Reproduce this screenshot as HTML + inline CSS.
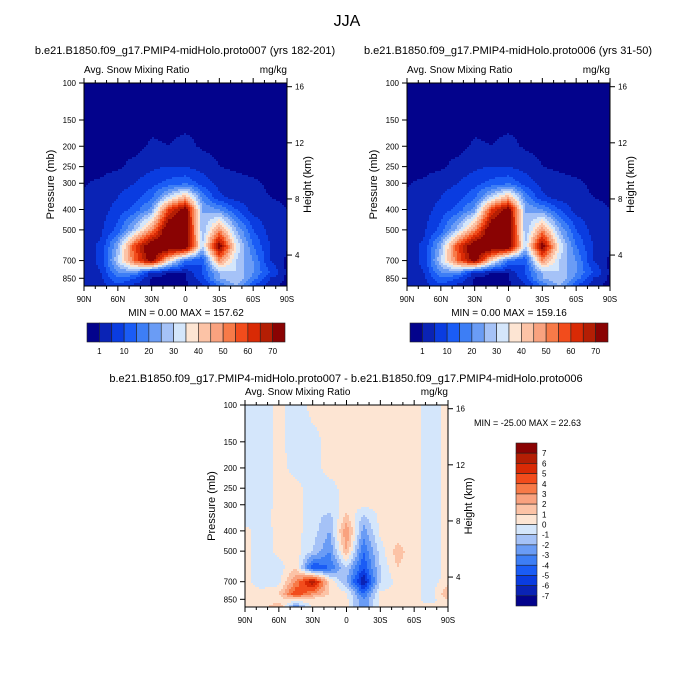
<!DOCTYPE html>
<html><head><meta charset="utf-8"><style>
html,body{margin:0;padding:0;background:#fff;}
svg{display:block;font-family:"Liberation Sans",Arial,sans-serif;}
</style></head><body>
<svg id="chart" width="694" height="694" viewBox="0 0 694 694" xmlns="http://www.w3.org/2000/svg">
<rect width="694" height="694" fill="#fff"/>
<text x="347" y="26" font-size="16" text-anchor="middle">JJA</text>
<g id="root"></g>
</svg>
<script>
const lats = [90,75,60,45,30,15,0,-15,-30,-45,-60,-75,-90];
const prs = [100,150,200,250,300,350,400,500,600,700,800,850,925];
const snowA = [
[0,0,0,0,0,0,0,0,0,0,0,0,0],
[0,0,0,0,0,0,0,0,0,0,0,0,0],
[0,0,0,0,1.5,1,2,0.5,0,0,0,0,0],
[0,0,0.5,2,4,5,5,3,1,0.5,0,0,0],
[0.8,1.5,3,5,8,12,14,8,3,2,1.5,0.5,0.3],
[1.5,2.5,5,8,14,30,45,18,6,3,2,1,0.5],
[2,3,7,12,22,60,75,25,20,10,3,2,1],
[2.5,4,12,28,50,80,80,25,50,25,10,3,1.2],
[3,6,25,60,80,80,80,30,75,35,15,5,1.5],
[3,6,30,55,75,40,15,10,50,30,20,5,0],
[3,5,20,20,3,1,1,10,25,30,20,10,0],
[3,4,15,10,0.5,0.3,0.5,8,25,30,18,5,0],
[2,3,8,3,0.3,0.3,0.5,4,15,25,10,2,0]];
const snowB = [
[0,0,0,0,0,0,0,0,0,0,0,0,0],
[0,0,0,0,0,0,0,0,0,0,0,0,0],
[0,0,0,0,1.5,1,2,0.5,0,0,0,0,0],
[0,0,0.5,2,4,5,5,3,1,0.5,0,0,0],
[0.8,1.5,3,5,8,12,14,8,3,2,1.5,0.5,0.3],
[1.5,2.5,5,8,14,30,45,18,6,3,2,1,0.5],
[2,3,7,12,22,60,75,25,20,10,3,2,1],
[2.5,4,12,28,50,80,80,25,50,25,10,3,1.2],
[3,6,25,60,80,80,80,30,75,35,15,5,1.5],
[3,6,30,55,75,40,15,10,50,30,20,5,0],
[3,5,20,20,3,1,1,10,25,30,20,10,0],
[3,4,15,10,0.5,0.3,0.5,8,25,30,18,5,0],
[2,3,8,3,0.3,0.3,0.5,4,15,25,10,2,0]];
const diff = [
[-0.5,-0.5,0.3,-0.5,0.3,0.3,0.5,0.3,0.3,0.3,0.3,-0.5,0.3],
[-0.5,-0.5,0.3,-0.5,-0.3,0.3,0.3,0.3,0.3,0.3,0.3,-0.5,0.3],
[-0.5,-0.5,0.3,-0.3,-0.3,0.3,0.3,0.3,0.3,0.3,0.3,-0.5,0.3],
[-0.5,-0.5,0.3,0.3,-0.5,-0.3,0.3,0.3,0.3,0.3,0.3,-0.5,0.3],
[-0.5,-0.5,0.3,0.3,-0.5,-0.3,0.3,0.3,0.3,0.3,0.3,-0.5,0.3],
[-0.5,-0.3,0.3,0.3,-0.5,-1.5,1.5,-1.5,0.3,0.3,0.3,-0.5,0.3],
[0.3,-0.5,0.3,0.3,-0.5,-2,3,-2.5,0.3,0.3,0.3,-0.5,0.3],
[0.3,-0.5,0.3,0.5,-1,-3,2,-4,-0.5,1.5,0.3,-0.5,0.3],
[0.3,-0.5,-0.5,1,-5,-4,-1,-5,-1,1,0.3,-0.5,0.3],
[0.3,-0.5,-0.5,3,7,1,-2,-7,-1,0.3,0.3,-0.5,0.5],
[0.3,0.3,1,5,3,1,0.3,-4,0.3,0.3,0.3,-0.5,2],
[0.3,0.3,0.5,1,0.5,0.3,0.3,-3,0.3,0.3,0.3,-0.5,1],
[0.3,0.3,2,-3,0.3,0.3,0.3,-3,0.3,0.3,0.3,0.3,1]];
const snowLevels = [1,5,10,15,20,25,30,35,40,45,50,55,60,65,70];
const snowLabels = ["1","10","20","30","40","50","60","70"];
const diffLevels = [-7,-6,-5,-4,-3,-2,-1,0,1,2,3,4,5,6,7];
const diffLabels = ["7","6","5","4","3","2","1","0","-1","-2","-3","-4","-5","-6","-7"];
const pTicks = [100,150,200,250,300,400,500,700,850];
const zTicks = [4,8,12,16];
const latTicks = [90,60,30,0,-30,-60,-90];
const latTickLabels = ["90N","60N","30N","0","30S","60S","90S"];
const colors = ["#03038c","#0a23b5","#0a3ce0","#1a5cf5","#3d7ef5","#6a9cf5","#a5c2f7","#d4e6fb","#fde5d3","#fcc3a6","#f9a27f","#f77a48","#f24c1c","#d92a05","#b41e04","#8a0303"];

const NS="http://www.w3.org/2000/svg";
const root=document.getElementById('root');
function el(tag,attrs,parent,text){const e=document.createElementNS(NS,tag);for(const k in attrs)e.setAttribute(k,attrs[k]);if(text!==undefined)e.textContent=text;(parent||root).appendChild(e);return e;}
const PBOT=925;
function yP(P,p){return P.y0+(Math.log(p)-Math.log(100))/(Math.log(PBOT)-Math.log(100))*P.h;}
function xL(P,lat){return P.x0+(90-lat)/180*P.w;}
function yZ(P,z){return P.y0+3.7+(16-z)*14.03;}
function sample(grid,lat,p){
  let fi=(90-lat)/15; fi=Math.max(0,Math.min(lats.length-1.0001,fi));
  const i=Math.floor(fi),tx=fi-i;
  const lp=Math.log(p);let j=0;
  while(j<prs.length-2&&Math.log(prs[j+1])<lp)j++;
  let ty=(lp-Math.log(prs[j]))/(Math.log(prs[j+1])-Math.log(prs[j]));ty=Math.max(0,Math.min(1,ty));
  const a=grid[j][i],b=grid[j][i+1],c=grid[j+1][i],d=grid[j+1][i+1];
  return (a*(1-tx)+b*tx)*(1-ty)+(c*(1-tx)+d*tx)*ty;
}
function idx(v,levels){let k=0;while(k<levels.length&&v>=levels[k])k++;return k;}

function panel(P,grid,levels,name){
  const g=el('g',{},root);
  
  
  const step=2;
  const xEnd=P.x0+P.w;
  for(let y=P.y0;y<P.y0+P.h;y+=step){
    const hh=Math.min(step,P.y0+P.h-y);
    const p=Math.exp(Math.log(100)+(y+hh/2-P.y0)/P.h*(Math.log(PBOT)-Math.log(100)));
    let runStart=P.x0,runC=-1;
    const flush=(xe)=>{
      if(runC<0)return;
      const r=el('rect',{x:runStart,y:y,width:xe-runStart+0.4,height:hh+0.4,fill:colors[runC]},g);
      
      
    };
    for(let x=P.x0;x<xEnd;x+=step){
      const lat=90-(Math.min(x+step/2,xEnd)-P.x0)/P.w*180;
      const c=idx(sample(grid,lat,p),levels);
      if(c!==runC){flush(x);runStart=x;runC=c;}
    }
    flush(xEnd);
  }
  el('rect',{x:P.x0,y:P.y0,width:P.w,height:P.h,fill:'none',stroke:'#000','stroke-width':1},g);
  pTicks.forEach(p=>{const y=yP(P,p);el('line',{x1:P.x0-5,x2:P.x0,y1:y,y2:y,stroke:'#000'},g);
    const t=el('text',{x:P.x0-8,y:y+3,'font-size':8,'text-anchor':'end'},g,String(p));
    });
  zTicks.forEach(z=>{const y=yZ(P,z);el('line',{x1:P.x0+P.w,x2:P.x0+P.w+5,y1:y,y2:y,stroke:'#000'},g);
    const t=el('text',{x:P.x0+P.w+8,y:y+3,'font-size':8},g,String(z));
    });
  for(let lat=90;lat>=-90;lat-=10){const x=xL(P,lat);const maj=lat%30===0;
    el('line',{x1:x,x2:x,y1:P.y0+P.h,y2:P.y0+P.h+(maj?5:3),stroke:'#000'},g);
    el('line',{x1:x,x2:x,y1:P.y0,y2:P.y0-(maj?5:3),stroke:'#000'},g);}
  latTicks.forEach((lat,k)=>{const t=el('text',{x:xL(P,lat),y:P.y0+P.h+16,'font-size':8,'text-anchor':'middle'},g,latTickLabels[k]);
    });
  let t=el('text',{x:P.x0,y:P.y0-10,'font-size':10},g,'Avg. Snow Mixing Ratio');
  
  t=el('text',{x:P.x0+P.w,y:P.y0-10,'font-size':10,'text-anchor':'end'},g,'mg/kg');
  
  const cy=P.y0+P.h/2;
  t=el('text',{x:P.x0-30,y:cy,'font-size':11,'text-anchor':'middle',transform:`rotate(-90 ${P.x0-30} ${cy})`},g,'Pressure (mb)');
  
  t=el('text',{x:P.x0+P.w+24,y:cy,'font-size':11,'text-anchor':'middle',transform:`rotate(-90 ${P.x0+P.w+24} ${cy})`},g,'Height (km)');
  
}
function hbar(x0,y0,w,h,name){
  const g=el('g',{},root);
  const bw=w/colors.length;
  colors.forEach((c,i)=>{const r=el('rect',{x:x0+i*bw,y:y0,width:bw,height:h,fill:c,stroke:'#222','stroke-width':0.6},g);
    });
  snowLabels.forEach((s,k)=>{const b=1+2*k;const t=el('text',{x:x0+b*bw,y:y0+h+12,'font-size':8,'text-anchor':'middle'},g,s);
    });
}
function vbar(x0,y0,w,h,name){
  const g=el('g',{},root);
  const bh=h/colors.length;
  colors.slice().reverse().forEach((c,i)=>{const r=el('rect',{x:x0,y:y0+i*bh,width:w,height:bh,fill:c,stroke:'#222','stroke-width':0.6},g);
    });
  diffLabels.forEach((s,k)=>{const t=el('text',{x:x0+w+5,y:y0+(k+1)*bh+3,'font-size':8},g,s);
    });
}
const P1={x0:84,y0:83,w:203,h:203},P2={x0:407,y0:83,w:203,h:203},P3={x0:245,y0:405,w:203,h:202};
panel(P1,snowA,snowLevels,'panel-proto007');
panel(P2,snowB,snowLevels,'panel-proto006');
panel(P3,diff,diffLevels,'panel-difference');
hbar(87,323,198,19,'colorbar-left');
hbar(410,323,198,19,'colorbar-right');
vbar(516,443,21,163,'colorbar-diff');
function txt(x,y,s,size,anchor,name){const t=el('text',{x:x,y:y,'font-size':size,'text-anchor':anchor},root,s);
  }
txt(185,54,'b.e21.B1850.f09_g17.PMIP4-midHolo.proto007 (yrs 182-201)',11,'middle','subtitle-left');
txt(508,54,'b.e21.B1850.f09_g17.PMIP4-midHolo.proto006 (yrs 31-50)',11,'middle','subtitle-right');
txt(186,316,'MIN =   0.00  MAX = 157.62',10,'middle','minmax-left');
txt(509,316,'MIN =   0.00  MAX = 159.16',10,'middle','minmax-right');
txt(346,382,'b.e21.B1850.f09_g17.PMIP4-midHolo.proto007 - b.e21.B1850.f09_g17.PMIP4-midHolo.proto006',11,'middle','subtitle-bottom');
txt(474,426,'MIN = -25.00  MAX =  22.63',9,'start','minmax-diff');
</script>
</body></html>
